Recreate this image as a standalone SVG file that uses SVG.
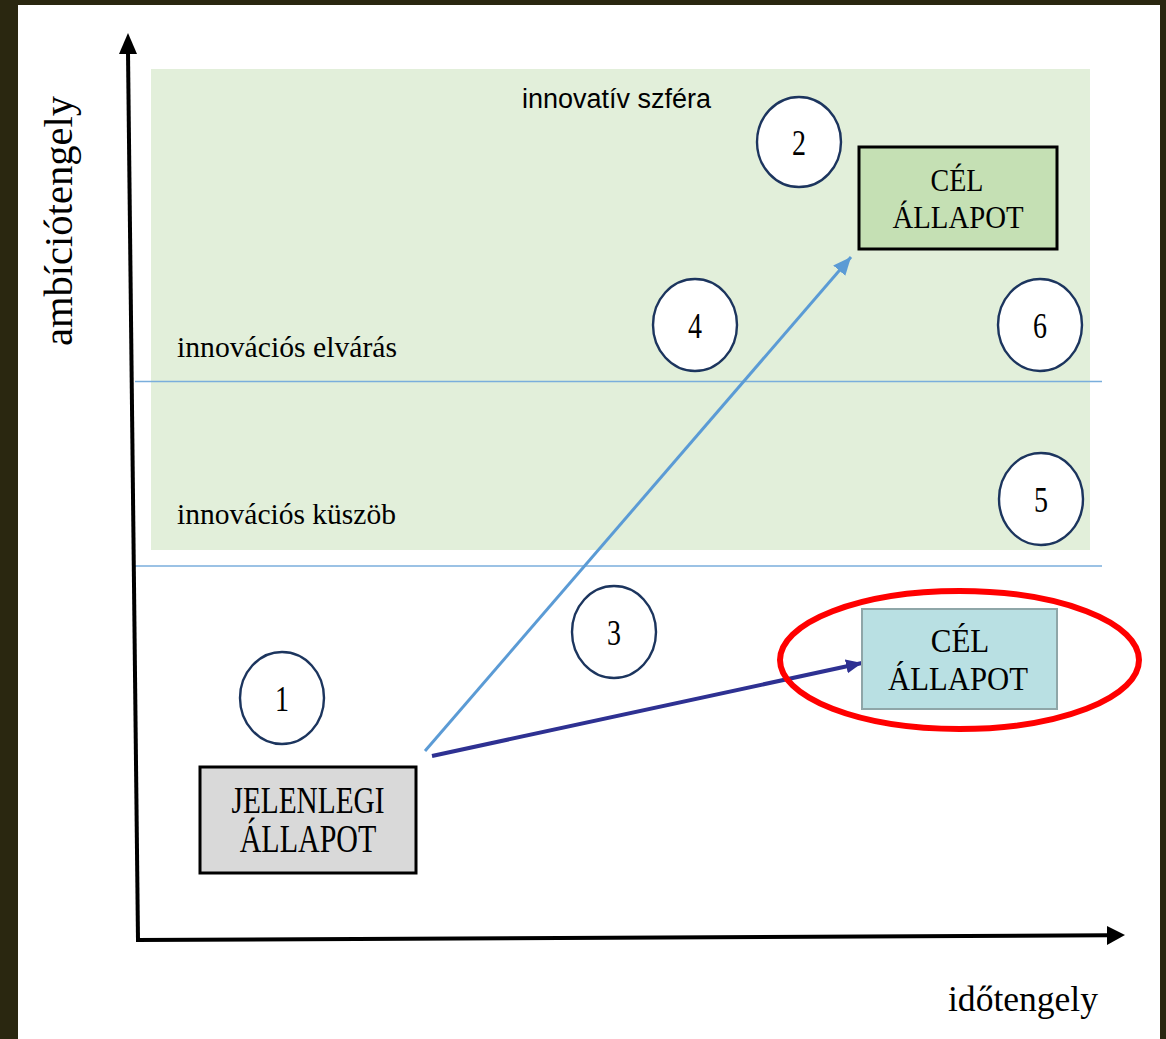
<svg xmlns="http://www.w3.org/2000/svg" width="1166" height="1039" viewBox="0 0 1166 1039">
<style>
.serif{font-family:"Liberation Serif","Times New Roman",serif;fill:#000}
.sans{font-family:"Liberation Sans",Arial,sans-serif;fill:#000}
.num{font-family:"Liberation Serif","Times New Roman",serif;font-size:28px;text-anchor:middle;fill:#000}
.circ{fill:#fff;stroke:#1c355e;stroke-width:2.4}
.box{stroke:#000;stroke-width:3}
.hl{stroke:#7aaedc;stroke-width:1.6;fill:none}
</style>
<defs>
<marker id="lbh" markerUnits="userSpaceOnUse" markerWidth="20" markerHeight="20" refX="18" refY="8" orient="auto">
<path d="M0,0 L18,8 L0,16 Z" fill="#5b9bd5"/>
</marker>
<marker id="dbh" markerUnits="userSpaceOnUse" markerWidth="20" markerHeight="20" refX="16" refY="7" orient="auto">
<path d="M0,0 L16,7 L0,14 Z" fill="#2e3192"/>
</marker>
</defs>
<rect x="0" y="0" width="1166" height="1039" fill="#2a2710"/>
<rect x="18" y="5" width="1142" height="1034" fill="#fff"/>
<g id="innovative-sphere">
<rect x="151" y="69" width="939" height="481" fill="#e2efda"/>
<text class="sans" x="522" y="108" font-size="27" textLength="189" lengthAdjust="spacingAndGlyphs">innovatív szféra</text>
</g>
<g id="thresholds">
<line class="hl" x1="135" y1="381.5" x2="1102" y2="381.5"/>
<line class="hl" x1="135" y1="566" x2="1102" y2="566"/>
<text class="serif" x="177" y="357" font-size="29.5" textLength="220" lengthAdjust="spacingAndGlyphs">innovációs elvárás</text>
<text class="serif" x="177" y="524" font-size="29.5" textLength="219" lengthAdjust="spacingAndGlyphs">innovációs küszöb</text>
</g>
<g id="axes">
<line x1="128" y1="52" x2="138" y2="940" stroke="#000" stroke-width="4"/>
<path d="M128,33 L137,54 L119,54 Z" fill="#000"/>
<line x1="136" y1="940" x2="1108" y2="935.2" stroke="#000" stroke-width="4"/>
<path d="M1125,935 L1107,926 L1107,945 Z" fill="#000"/>
<text class="serif" font-size="40" text-anchor="middle" transform="translate(72,221) rotate(-90)" textLength="250" lengthAdjust="spacingAndGlyphs">ambíciótengely</text>
<text class="serif" x="948" y="1011" font-size="35" textLength="150" lengthAdjust="spacingAndGlyphs">időtengely</text>
</g>
<g id="connectors">
<line x1="425" y1="751" x2="851" y2="257" stroke="#5b9bd5" stroke-width="3" marker-end="url(#lbh)"/>
<line x1="432" y1="756" x2="862" y2="663" stroke="#2e3192" stroke-width="4" marker-end="url(#dbh)"/>
</g>
<g id="circle-1"><ellipse class="circ" cx="282" cy="698" rx="42" ry="46"/><text class="num" transform="translate(282,711) scale(1,1.3)">1</text></g>
<g id="circle-2"><ellipse class="circ" cx="799" cy="142" rx="42" ry="45"/><text class="num" transform="translate(799,155) scale(1,1.3)">2</text></g>
<g id="circle-3"><ellipse class="circ" cx="614" cy="632" rx="42" ry="46"/><text class="num" transform="translate(614,645) scale(1,1.3)">3</text></g>
<g id="circle-4"><ellipse class="circ" cx="695" cy="325" rx="42" ry="46"/><text class="num" transform="translate(695,338) scale(1,1.3)">4</text></g>
<g id="circle-5"><ellipse class="circ" cx="1041" cy="499" rx="42" ry="46"/><text class="num" transform="translate(1041,512) scale(1,1.3)">5</text></g>
<g id="circle-6"><ellipse class="circ" cx="1040" cy="325" rx="42" ry="46"/><text class="num" transform="translate(1040,338) scale(1,1.3)">6</text></g>
<g id="goal-innovative">
<rect class="box" x="859" y="147" width="198" height="102" fill="#c5e0b4"/>
<text class="serif" font-size="28" text-anchor="middle" transform="translate(957,191) scale(1,1.12)">CÉL</text>
<text class="serif" font-size="28.8" text-anchor="middle" transform="translate(958,228) scale(1,1.12)">ÁLLAPOT</text>
</g>
<g id="current-state">
<rect class="box" x="200" y="767" width="216" height="106" fill="#d9d9d9"/>
<text class="serif" font-size="29.3" text-anchor="middle" transform="translate(308,813) scale(1,1.3)">JELENLEGI</text>
<text class="serif" font-size="30" text-anchor="middle" transform="translate(308,852) scale(1,1.3)">ÁLLAPOT</text>
</g>
<g id="goal-conventional">
<rect x="862" y="609" width="195" height="100" fill="#b9e0e3" stroke="#8fa6a8" stroke-width="2"/>
<text class="serif" font-size="31" text-anchor="middle" transform="translate(960,652) scale(1,1.08)">CÉL</text>
<text class="serif" font-size="30.7" text-anchor="middle" transform="translate(958,690) scale(1,1.08)">ÁLLAPOT</text>
</g>
<g id="highlight">
<ellipse cx="959.5" cy="660" rx="179.5" ry="69" fill="none" stroke="#ff0000" stroke-width="6"/>
</g>
</svg>
